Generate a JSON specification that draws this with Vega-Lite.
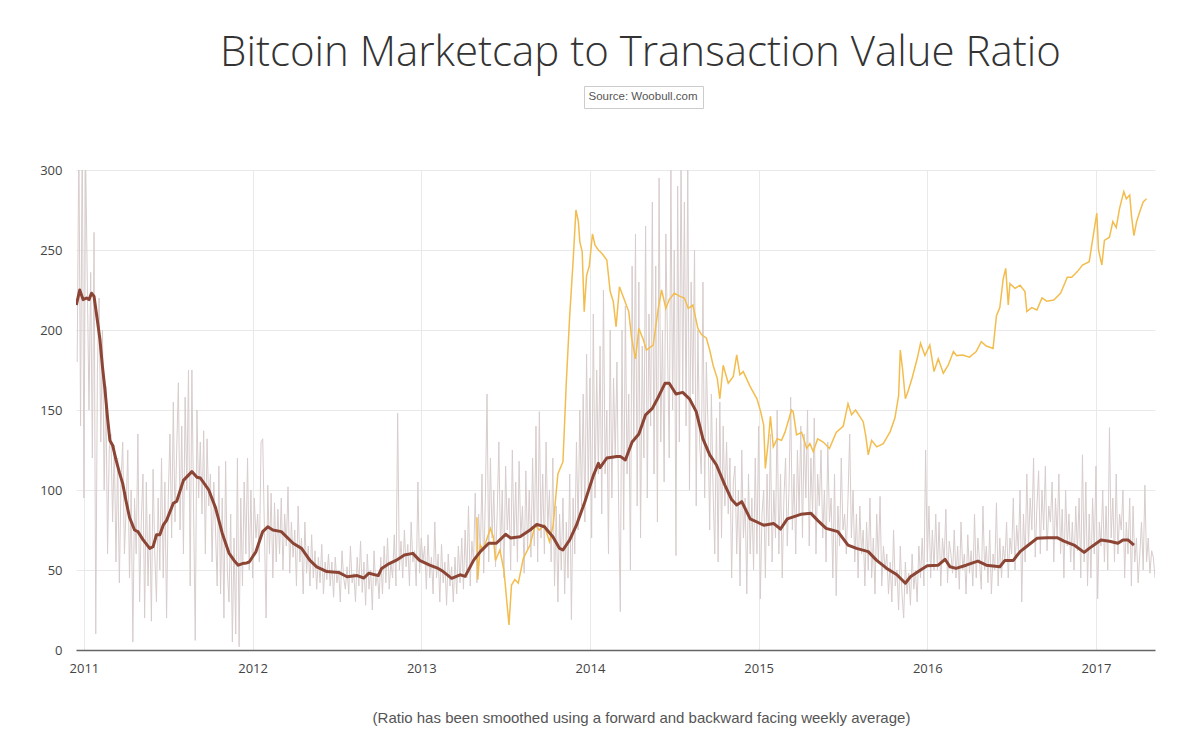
{
"$schema": "https://vega.github.io/schema/vega-lite/v6.json",
"width": 1079,
"height": 480,
"autosize": {"type": "none"},
"padding": {"left": 76, "top": 170, "right": 45, "bottom": 88},
"background": "white",
"config": {"view": {"stroke": null}},
"title": {"text": "Bitcoin Marketcap to Transaction Value Ratio", "font": "Open Sans", "fontSize": 42, "fontWeight": 300, "color": "#333333", "anchor": "middle", "frame": "group", "dx": 25, "dy": 40, "baseline": "alphabetic", "offset": 18},
"datasets": {
"daily": [
{"t":2010.96,"v":180},{"t":2010.97,"v":320},{"t":2010.98,"v":140},{"t":2010.99,"v":330},{"t":2011.00,"v":95},{"t":2011.01,"v":310},{"t":2011.02,"v":230},{"t":2011.03,"v":150},{"t":2011.04,"v":236},{"t":2011.05,"v":120},
{"t":2011.06,"v":261},{"t":2011.07,"v":10},{"t":2011.08,"v":175},{"t":2011.09,"v":220},{"t":2011.10,"v":130},{"t":2011.11,"v":200},{"t":2011.12,"v":100},{"t":2011.13,"v":165},{"t":2011.14,"v":60},{"t":2011.15,"v":125},
{"t":2011.16,"v":135},{"t":2011.17,"v":80},{"t":2011.18,"v":128},{"t":2011.19,"v":55},{"t":2011.20,"v":120},{"t":2011.21,"v":42},{"t":2011.22,"v":105},{"t":2011.23,"v":130},{"t":2011.24,"v":60},{"t":2011.25,"v":88},
{"t":2011.26,"v":125},{"t":2011.27,"v":45},{"t":2011.28,"v":100},{"t":2011.29,"v":5},{"t":2011.30,"v":95},{"t":2011.31,"v":60},{"t":2011.32,"v":135},{"t":2011.33,"v":30},{"t":2011.34,"v":80},{"t":2011.35,"v":110},
{"t":2011.36,"v":20},{"t":2011.37,"v":105},{"t":2011.38,"v":40},{"t":2011.39,"v":85},{"t":2011.40,"v":18},{"t":2011.41,"v":113},{"t":2011.42,"v":60},{"t":2011.43,"v":30},{"t":2011.44,"v":95},{"t":2011.45,"v":50},
{"t":2011.46,"v":120},{"t":2011.47,"v":45},{"t":2011.48,"v":105},{"t":2011.49,"v":20},{"t":2011.50,"v":95},{"t":2011.51,"v":135},{"t":2011.52,"v":70},{"t":2011.53,"v":155},{"t":2011.54,"v":80},{"t":2011.55,"v":125},
{"t":2011.56,"v":167},{"t":2011.57,"v":75},{"t":2011.58,"v":140},{"t":2011.59,"v":60},{"t":2011.60,"v":158},{"t":2011.61,"v":100},{"t":2011.62,"v":175},{"t":2011.63,"v":40},{"t":2011.64,"v":175},{"t":2011.65,"v":90},
{"t":2011.66,"v":6},{"t":2011.67,"v":150},{"t":2011.68,"v":95},{"t":2011.69,"v":130},{"t":2011.70,"v":85},{"t":2011.71,"v":137},{"t":2011.72,"v":60},{"t":2011.73,"v":132},{"t":2011.74,"v":90},{"t":2011.75,"v":110},
{"t":2011.76,"v":55},{"t":2011.77,"v":105},{"t":2011.78,"v":75},{"t":2011.79,"v":40},{"t":2011.80,"v":115},{"t":2011.81,"v":35},{"t":2011.82,"v":95},{"t":2011.83,"v":20},{"t":2011.84,"v":118},{"t":2011.85,"v":50},
{"t":2011.86,"v":30},{"t":2011.87,"v":85},{"t":2011.88,"v":5},{"t":2011.89,"v":70},{"t":2011.90,"v":10},{"t":2011.91,"v":120},{"t":2011.92,"v":2},{"t":2011.93,"v":95},{"t":2011.94,"v":40},{"t":2011.95,"v":105},
{"t":2011.96,"v":60},{"t":2011.97,"v":120},{"t":2011.98,"v":50},{"t":2011.99,"v":100},{"t":2012.00,"v":45},{"t":2012.01,"v":95},{"t":2012.02,"v":70},{"t":2012.03,"v":85},{"t":2012.04,"v":55},{"t":2012.05,"v":130},
{"t":2012.06,"v":132},{"t":2012.07,"v":75},{"t":2012.08,"v":20},{"t":2012.09,"v":103},{"t":2012.10,"v":60},{"t":2012.11,"v":98},{"t":2012.12,"v":45},{"t":2012.13,"v":92},{"t":2012.14,"v":55},{"t":2012.15,"v":88},
{"t":2012.16,"v":60},{"t":2012.17,"v":95},{"t":2012.18,"v":50},{"t":2012.19,"v":85},{"t":2012.20,"v":65},{"t":2012.21,"v":102},{"t":2012.22,"v":48},{"t":2012.23,"v":80},{"t":2012.24,"v":58},{"t":2012.25,"v":75},
{"t":2012.26,"v":40},{"t":2012.27,"v":90},{"t":2012.28,"v":55},{"t":2012.29,"v":70},{"t":2012.30,"v":35},{"t":2012.31,"v":80},{"t":2012.32,"v":48},{"t":2012.33,"v":65},{"t":2012.34,"v":40},{"t":2012.35,"v":72},
{"t":2012.36,"v":45},{"t":2012.37,"v":62},{"t":2012.38,"v":38},{"t":2012.39,"v":58},{"t":2012.40,"v":42},{"t":2012.41,"v":66},{"t":2012.42,"v":35},{"t":2012.43,"v":55},{"t":2012.44,"v":44},{"t":2012.45,"v":60},
{"t":2012.46,"v":40},{"t":2012.47,"v":55},{"t":2012.48,"v":33},{"t":2012.49,"v":58},{"t":2012.50,"v":42},{"t":2012.51,"v":50},{"t":2012.52,"v":30},{"t":2012.53,"v":62},{"t":2012.54,"v":45},{"t":2012.55,"v":38},
{"t":2012.56,"v":52},{"t":2012.57,"v":35},{"t":2012.58,"v":65},{"t":2012.59,"v":42},{"t":2012.60,"v":48},{"t":2012.61,"v":30},{"t":2012.62,"v":58},{"t":2012.63,"v":40},{"t":2012.64,"v":68},{"t":2012.65,"v":36},
{"t":2012.66,"v":55},{"t":2012.67,"v":28},{"t":2012.68,"v":60},{"t":2012.69,"v":38},{"t":2012.70,"v":50},{"t":2012.71,"v":25},{"t":2012.72,"v":62},{"t":2012.73,"v":40},{"t":2012.74,"v":48},{"t":2012.75,"v":32},
{"t":2012.76,"v":58},{"t":2012.77,"v":35},{"t":2012.78,"v":65},{"t":2012.79,"v":42},{"t":2012.80,"v":70},{"t":2012.81,"v":38},{"t":2012.82,"v":55},{"t":2012.83,"v":45},{"t":2012.84,"v":72},{"t":2012.85,"v":40},
{"t":2012.86,"v":148},{"t":2012.87,"v":50},{"t":2012.88,"v":68},{"t":2012.89,"v":45},{"t":2012.90,"v":75},{"t":2012.91,"v":52},{"t":2012.92,"v":66},{"t":2012.93,"v":40},{"t":2012.94,"v":80},{"t":2012.95,"v":55},
{"t":2012.96,"v":62},{"t":2012.97,"v":40},{"t":2012.98,"v":105},{"t":2012.99,"v":48},{"t":2013.00,"v":70},{"t":2013.01,"v":55},{"t":2013.02,"v":65},{"t":2013.03,"v":38},{"t":2013.04,"v":72},{"t":2013.05,"v":45},
{"t":2013.06,"v":58},{"t":2013.07,"v":35},{"t":2013.08,"v":80},{"t":2013.09,"v":45},{"t":2013.10,"v":60},{"t":2013.11,"v":30},{"t":2013.12,"v":66},{"t":2013.13,"v":42},{"t":2013.14,"v":55},{"t":2013.15,"v":28},
{"t":2013.16,"v":60},{"t":2013.17,"v":40},{"t":2013.18,"v":52},{"t":2013.19,"v":30},{"t":2013.20,"v":58},{"t":2013.21,"v":35},{"t":2013.22,"v":65},{"t":2013.23,"v":42},{"t":2013.24,"v":70},{"t":2013.25,"v":38},
{"t":2013.26,"v":75},{"t":2013.27,"v":45},{"t":2013.28,"v":90},{"t":2013.29,"v":40},{"t":2013.30,"v":68},{"t":2013.31,"v":55},{"t":2013.32,"v":98},{"t":2013.33,"v":42},{"t":2013.34,"v":85},{"t":2013.35,"v":60},
{"t":2013.36,"v":110},{"t":2013.37,"v":48},{"t":2013.38,"v":95},{"t":2013.39,"v":160},{"t":2013.40,"v":55},{"t":2013.41,"v":120},{"t":2013.42,"v":70},{"t":2013.43,"v":100},{"t":2013.44,"v":52},{"t":2013.45,"v":85},
{"t":2013.46,"v":130},{"t":2013.47,"v":60},{"t":2013.48,"v":100},{"t":2013.49,"v":45},{"t":2013.50,"v":115},{"t":2013.51,"v":75},{"t":2013.52,"v":95},{"t":2013.53,"v":50},{"t":2013.54,"v":125},{"t":2013.55,"v":65},
{"t":2013.56,"v":105},{"t":2013.57,"v":55},{"t":2013.58,"v":118},{"t":2013.59,"v":70},{"t":2013.60,"v":90},{"t":2013.61,"v":48},{"t":2013.62,"v":112},{"t":2013.63,"v":62},{"t":2013.64,"v":100},{"t":2013.65,"v":58},
{"t":2013.66,"v":120},{"t":2013.67,"v":65},{"t":2013.68,"v":140},{"t":2013.69,"v":55},{"t":2013.70,"v":149},{"t":2013.71,"v":70},{"t":2013.72,"v":110},{"t":2013.73,"v":60},{"t":2013.74,"v":130},{"t":2013.75,"v":75},
{"t":2013.76,"v":100},{"t":2013.77,"v":55},{"t":2013.78,"v":120},{"t":2013.79,"v":40},{"t":2013.80,"v":90},{"t":2013.81,"v":30},{"t":2013.82,"v":85},{"t":2013.83,"v":50},{"t":2013.84,"v":95},{"t":2013.85,"v":35},
{"t":2013.86,"v":80},{"t":2013.87,"v":45},{"t":2013.88,"v":110},{"t":2013.89,"v":19},{"t":2013.90,"v":95},{"t":2013.91,"v":60},{"t":2013.92,"v":130},{"t":2013.93,"v":75},{"t":2013.94,"v":150},{"t":2013.95,"v":90},
{"t":2013.96,"v":160},{"t":2013.97,"v":80},{"t":2013.98,"v":185},{"t":2013.99,"v":100},{"t":2014.00,"v":170},{"t":2014.01,"v":70},{"t":2014.02,"v":210},{"t":2014.03,"v":95},{"t":2014.04,"v":175},{"t":2014.05,"v":110},
{"t":2014.06,"v":190},{"t":2014.07,"v":85},{"t":2014.08,"v":225},{"t":2014.09,"v":110},{"t":2014.10,"v":150},{"t":2014.11,"v":60},{"t":2014.12,"v":200},{"t":2014.13,"v":95},{"t":2014.14,"v":170},{"t":2014.15,"v":120},
{"t":2014.16,"v":180},{"t":2014.17,"v":90},{"t":2014.18,"v":24},{"t":2014.19,"v":200},{"t":2014.20,"v":75},{"t":2014.21,"v":215},{"t":2014.22,"v":110},{"t":2014.23,"v":160},{"t":2014.24,"v":50},{"t":2014.25,"v":240},
{"t":2014.26,"v":130},{"t":2014.27,"v":260},{"t":2014.28,"v":90},{"t":2014.29,"v":230},{"t":2014.30,"v":70},{"t":2014.31,"v":190},{"t":2014.32,"v":120},{"t":2014.33,"v":265},{"t":2014.34,"v":95},{"t":2014.35,"v":210},
{"t":2014.36,"v":140},{"t":2014.37,"v":280},{"t":2014.38,"v":110},{"t":2014.39,"v":240},{"t":2014.40,"v":80},{"t":2014.41,"v":295},{"t":2014.42,"v":130},{"t":2014.43,"v":200},{"t":2014.44,"v":105},{"t":2014.45,"v":260},
{"t":2014.46,"v":190},{"t":2014.47,"v":120},{"t":2014.48,"v":300},{"t":2014.49,"v":150},{"t":2014.50,"v":250},{"t":2014.51,"v":59},{"t":2014.52,"v":290},{"t":2014.53,"v":130},{"t":2014.54,"v":310},{"t":2014.55,"v":160},
{"t":2014.56,"v":280},{"t":2014.57,"v":140},{"t":2014.58,"v":305},{"t":2014.59,"v":100},{"t":2014.60,"v":230},{"t":2014.61,"v":160},{"t":2014.62,"v":250},{"t":2014.63,"v":90},{"t":2014.64,"v":200},{"t":2014.65,"v":130},
{"t":2014.66,"v":110},{"t":2014.67,"v":230},{"t":2014.68,"v":95},{"t":2014.69,"v":180},{"t":2014.70,"v":140},{"t":2014.71,"v":75},{"t":2014.72,"v":160},{"t":2014.73,"v":100},{"t":2014.74,"v":60},{"t":2014.75,"v":145},
{"t":2014.76,"v":55},{"t":2014.77,"v":155},{"t":2014.78,"v":70},{"t":2014.79,"v":140},{"t":2014.80,"v":90},{"t":2014.81,"v":130},{"t":2014.82,"v":85},{"t":2014.83,"v":120},{"t":2014.84,"v":45},{"t":2014.85,"v":105},
{"t":2014.86,"v":115},{"t":2014.87,"v":60},{"t":2014.88,"v":100},{"t":2014.89,"v":40},{"t":2014.90,"v":125},{"t":2014.91,"v":70},{"t":2014.92,"v":95},{"t":2014.93,"v":35},{"t":2014.94,"v":110},{"t":2014.95,"v":60},
{"t":2014.96,"v":95},{"t":2014.97,"v":50},{"t":2014.98,"v":120},{"t":2014.99,"v":60},{"t":2015.00,"v":140},{"t":2015.01,"v":32},{"t":2015.02,"v":85},{"t":2015.03,"v":100},{"t":2015.04,"v":45},{"t":2015.05,"v":110},
{"t":2015.06,"v":65},{"t":2015.07,"v":135},{"t":2015.08,"v":55},{"t":2015.09,"v":100},{"t":2015.10,"v":70},{"t":2015.11,"v":150},{"t":2015.12,"v":60},{"t":2015.13,"v":110},{"t":2015.14,"v":45},{"t":2015.15,"v":95},
{"t":2015.16,"v":120},{"t":2015.17,"v":65},{"t":2015.18,"v":100},{"t":2015.19,"v":158},{"t":2015.20,"v":75},{"t":2015.21,"v":110},{"t":2015.22,"v":60},{"t":2015.23,"v":125},{"t":2015.24,"v":85},{"t":2015.25,"v":140},
{"t":2015.26,"v":70},{"t":2015.27,"v":135},{"t":2015.28,"v":95},{"t":2015.29,"v":150},{"t":2015.30,"v":65},{"t":2015.31,"v":120},{"t":2015.32,"v":85},{"t":2015.33,"v":145},{"t":2015.34,"v":60},{"t":2015.35,"v":110},
{"t":2015.36,"v":90},{"t":2015.37,"v":125},{"t":2015.38,"v":70},{"t":2015.39,"v":100},{"t":2015.40,"v":55},{"t":2015.41,"v":130},{"t":2015.42,"v":80},{"t":2015.43,"v":95},{"t":2015.44,"v":45},{"t":2015.45,"v":110},
{"t":2015.46,"v":34},{"t":2015.47,"v":90},{"t":2015.48,"v":65},{"t":2015.49,"v":120},{"t":2015.50,"v":75},{"t":2015.51,"v":85},{"t":2015.52,"v":60},{"t":2015.53,"v":95},{"t":2015.54,"v":135},{"t":2015.55,"v":70},
{"t":2015.56,"v":100},{"t":2015.57,"v":55},{"t":2015.58,"v":85},{"t":2015.59,"v":45},{"t":2015.60,"v":90},{"t":2015.61,"v":60},{"t":2015.62,"v":75},{"t":2015.63,"v":40},{"t":2015.64,"v":80},{"t":2015.65,"v":50},
{"t":2015.66,"v":95},{"t":2015.67,"v":45},{"t":2015.68,"v":70},{"t":2015.69,"v":35},{"t":2015.70,"v":85},{"t":2015.71,"v":55},{"t":2015.72,"v":96},{"t":2015.73,"v":40},{"t":2015.74,"v":65},{"t":2015.75,"v":50},
{"t":2015.76,"v":60},{"t":2015.77,"v":35},{"t":2015.78,"v":55},{"t":2015.79,"v":30},{"t":2015.80,"v":75},{"t":2015.81,"v":40},{"t":2015.82,"v":50},{"t":2015.83,"v":25},{"t":2015.84,"v":65},{"t":2015.85,"v":35},
{"t":2015.86,"v":20},{"t":2015.87,"v":55},{"t":2015.88,"v":35},{"t":2015.89,"v":48},{"t":2015.90,"v":28},{"t":2015.91,"v":60},{"t":2015.92,"v":38},{"t":2015.93,"v":50},{"t":2015.94,"v":30},{"t":2015.95,"v":65},
{"t":2015.96,"v":45},{"t":2015.97,"v":70},{"t":2015.98,"v":40},{"t":2015.99,"v":125},{"t":2016.00,"v":55},{"t":2016.01,"v":90},{"t":2016.02,"v":45},{"t":2016.03,"v":75},{"t":2016.04,"v":50},{"t":2016.05,"v":85},
{"t":2016.06,"v":50},{"t":2016.07,"v":80},{"t":2016.08,"v":40},{"t":2016.09,"v":70},{"t":2016.10,"v":55},{"t":2016.11,"v":88},{"t":2016.12,"v":42},{"t":2016.13,"v":68},{"t":2016.14,"v":60},{"t":2016.15,"v":48},
{"t":2016.16,"v":75},{"t":2016.17,"v":45},{"t":2016.18,"v":65},{"t":2016.19,"v":38},{"t":2016.20,"v":80},{"t":2016.21,"v":50},{"t":2016.22,"v":60},{"t":2016.23,"v":35},{"t":2016.24,"v":72},{"t":2016.25,"v":48},
{"t":2016.26,"v":62},{"t":2016.27,"v":40},{"t":2016.28,"v":85},{"t":2016.29,"v":45},{"t":2016.30,"v":70},{"t":2016.31,"v":55},{"t":2016.32,"v":38},{"t":2016.33,"v":90},{"t":2016.34,"v":50},{"t":2016.35,"v":65},
{"t":2016.36,"v":42},{"t":2016.37,"v":75},{"t":2016.38,"v":35},{"t":2016.39,"v":60},{"t":2016.40,"v":50},{"t":2016.41,"v":92},{"t":2016.42,"v":40},{"t":2016.43,"v":70},{"t":2016.44,"v":45},{"t":2016.45,"v":65},
{"t":2016.46,"v":55},{"t":2016.47,"v":80},{"t":2016.48,"v":45},{"t":2016.49,"v":70},{"t":2016.50,"v":60},{"t":2016.51,"v":95},{"t":2016.52,"v":50},{"t":2016.53,"v":78},{"t":2016.54,"v":62},{"t":2016.55,"v":100},
{"t":2016.56,"v":30},{"t":2016.57,"v":85},{"t":2016.58,"v":55},{"t":2016.59,"v":110},{"t":2016.60,"v":65},{"t":2016.61,"v":95},{"t":2016.62,"v":75},{"t":2016.63,"v":120},{"t":2016.64,"v":58},{"t":2016.65,"v":90},
{"t":2016.66,"v":112},{"t":2016.67,"v":60},{"t":2016.68,"v":100},{"t":2016.69,"v":75},{"t":2016.70,"v":115},{"t":2016.71,"v":62},{"t":2016.72,"v":90},{"t":2016.73,"v":80},{"t":2016.74,"v":105},{"t":2016.75,"v":55},
{"t":2016.76,"v":95},{"t":2016.77,"v":70},{"t":2016.78,"v":110},{"t":2016.79,"v":60},{"t":2016.80,"v":88},{"t":2016.81,"v":45},{"t":2016.82,"v":100},{"t":2016.83,"v":65},{"t":2016.84,"v":85},{"t":2016.85,"v":55},
{"t":2016.86,"v":80},{"t":2016.87,"v":50},{"t":2016.88,"v":90},{"t":2016.89,"v":62},{"t":2016.90,"v":95},{"t":2016.91,"v":45},{"t":2016.92,"v":122},{"t":2016.93,"v":55},{"t":2016.94,"v":105},{"t":2016.95,"v":40},
{"t":2016.96,"v":85},{"t":2016.97,"v":45},{"t":2016.98,"v":95},{"t":2016.99,"v":60},{"t":2017.00,"v":115},{"t":2017.01,"v":32},{"t":2017.02,"v":80},{"t":2017.03,"v":65},{"t":2017.04,"v":100},{"t":2017.05,"v":55},
{"t":2017.06,"v":90},{"t":2017.07,"v":50},{"t":2017.08,"v":139},{"t":2017.09,"v":70},{"t":2017.10,"v":95},{"t":2017.11,"v":55},{"t":2017.12,"v":110},{"t":2017.13,"v":60},{"t":2017.14,"v":85},{"t":2017.15,"v":75},
{"t":2017.16,"v":100},{"t":2017.17,"v":45},{"t":2017.18,"v":80},{"t":2017.19,"v":60},{"t":2017.20,"v":95},{"t":2017.21,"v":40},{"t":2017.22,"v":90},{"t":2017.23,"v":55},{"t":2017.24,"v":70},{"t":2017.25,"v":42},
{"t":2017.26,"v":60},{"t":2017.27,"v":80},{"t":2017.28,"v":50},{"t":2017.29,"v":103},{"t":2017.30,"v":55},{"t":2017.31,"v":70},{"t":2017.32,"v":48},{"t":2017.33,"v":62},{"t":2017.34,"v":58},{"t":2017.35,"v":45}
],
"smooth": [
{"t":2010.955,"v":215.6},{"t":2010.975,"v":225},{"t":2010.995,"v":219},{"t":2011.015,"v":220},{"t":2011.03,"v":219},{"t":2011.045,"v":223},{"t":2011.06,"v":221},{"t":2011.081,"v":205},{"t":2011.095,"v":194},{"t":2011.11,"v":177},{"t":2011.125,"v":162.5},{"t":2011.14,"v":145},{"t":2011.154,"v":131},{"t":2011.17,"v":128},{"t":2011.19,"v":119},{"t":2011.21,"v":111},{"t":2011.23,"v":104},{"t":2011.25,"v":93},{"t":2011.27,"v":83},{"t":2011.30,"v":75},{"t":2011.32,"v":74},{"t":2011.35,"v":69},{"t":2011.39,"v":63.5},{"t":2011.41,"v":64.6},{"t":2011.43,"v":72},{"t":2011.45,"v":72},{"t":2011.47,"v":78},{"t":2011.49,"v":81},{"t":2011.53,"v":91.7},{"t":2011.55,"v":93},{"t":2011.59,"v":106},{"t":2011.64,"v":111.5},{"t":2011.67,"v":108},{"t":2011.69,"v":107.5},{"t":2011.72,"v":103},{"t":2011.74,"v":100},{"t":2011.78,"v":89},{"t":2011.82,"v":73},{"t":2011.86,"v":60.6},{"t":2011.89,"v":56},{"t":2011.915,"v":53},{"t":2011.94,"v":54},{"t":2011.965,"v":54.4},{"t":2011.98,"v":55},{"t":2012.02,"v":61.5},{"t":2012.06,"v":74},{"t":2012.09,"v":77},{"t":2012.12,"v":75},{"t":2012.17,"v":74},{"t":2012.24,"v":66.7},{"t":2012.29,"v":63.5},{"t":2012.34,"v":56},{"t":2012.38,"v":52},{"t":2012.44,"v":49},{"t":2012.51,"v":48.5},{"t":2012.56,"v":45.8},{"t":2012.62,"v":46.5},{"t":2012.66,"v":45},{"t":2012.69,"v":48},{"t":2012.745,"v":46.5},{"t":2012.765,"v":51},{"t":2012.81,"v":54},{"t":2012.85,"v":56},{"t":2012.90,"v":59.4},{"t":2012.95,"v":60.4},{"t":2012.99,"v":56},{"t":2013.05,"v":53},{"t":2013.10,"v":51},{"t":2013.13,"v":49},{"t":2013.18,"v":44.8},{"t":2013.23,"v":47},{"t":2013.26,"v":46},{"t":2013.31,"v":56},{"t":2013.35,"v":61.5},{"t":2013.40,"v":66.7},{"t":2013.445,"v":66.7},{"t":2013.50,"v":72.3},{"t":2013.53,"v":70},{"t":2013.585,"v":70.8},{"t":2013.645,"v":75},{"t":2013.685,"v":78.5},{"t":2013.73,"v":77},{"t":2013.78,"v":70.8},{"t":2013.82,"v":63.5},{"t":2013.84,"v":62.5},{"t":2013.88,"v":68.8},{"t":2013.92,"v":78},{"t":2013.97,"v":92.7},{"t":2014.02,"v":109},{"t":2014.05,"v":116.7},{"t":2014.06,"v":114},{"t":2014.10,"v":120},{"t":2014.16,"v":121},{"t":2014.18,"v":121},{"t":2014.21,"v":118.75},{"t":2014.25,"v":130},{"t":2014.29,"v":135},{"t":2014.33,"v":147},{"t":2014.37,"v":151},{"t":2014.405,"v":158},{"t":2014.445,"v":166.7},{"t":2014.47,"v":166.7},{"t":2014.51,"v":160},{"t":2014.55,"v":161},{"t":2014.59,"v":157},{"t":2014.63,"v":149},{"t":2014.67,"v":132},{"t":2014.71,"v":122},{"t":2014.75,"v":115.6},{"t":2014.80,"v":103},{"t":2014.84,"v":94},{"t":2014.87,"v":90.6},{"t":2014.90,"v":92.7},{"t":2014.95,"v":82},{"t":2014.99,"v":80},{"t":2015.03,"v":78},{"t":2015.09,"v":79},{"t":2015.13,"v":75.6},{"t":2015.17,"v":82},{"t":2015.25,"v":84.8},{"t":2015.31,"v":85.4},{"t":2015.35,"v":81},{"t":2015.40,"v":76},{"t":2015.47,"v":74},{"t":2015.53,"v":65.6},{"t":2015.58,"v":63.5},{"t":2015.65,"v":61.5},{"t":2015.70,"v":56},{"t":2015.76,"v":51},{"t":2015.82,"v":47},{"t":2015.87,"v":41.7},{"t":2015.90,"v":45.8},{"t":2015.96,"v":50},{"t":2016.00,"v":52.7},{"t":2016.065,"v":53},{"t":2016.105,"v":56.7},{"t":2016.135,"v":52},{"t":2016.17,"v":51},{"t":2016.23,"v":53},{"t":2016.30,"v":55.6},{"t":2016.35,"v":53},{"t":2016.43,"v":52},{"t":2016.46,"v":56},{"t":2016.51,"v":56},{"t":2016.55,"v":61.5},{"t":2016.60,"v":65.6},{"t":2016.65,"v":69.8},{"t":2016.71,"v":70.2},{"t":2016.77,"v":70.2},{"t":2016.81,"v":68},{"t":2016.87,"v":65.6},{"t":2016.93,"v":61},{"t":2016.96,"v":63.5},{"t":2017.03,"v":68.8},{"t":2017.08,"v":68},{"t":2017.13,"v":66.7},{"t":2017.16,"v":68.8},{"t":2017.19,"v":68.8},{"t":2017.225,"v":65.6}
],
"yellow": [
{"t":2013.33,"v":83},{"t":2013.335,"v":44},{"t":2013.35,"v":65.6},{"t":2013.367,"v":62.5},{"t":2013.41,"v":76},{"t":2013.427,"v":70.8},{"t":2013.44,"v":56},{"t":2013.466,"v":62.5},{"t":2013.49,"v":50},{"t":2013.52,"v":15.6},{"t":2013.535,"v":40.6},{"t":2013.555,"v":44},{"t":2013.575,"v":41.7},{"t":2013.605,"v":57.3},{"t":2013.645,"v":65.6},{"t":2013.675,"v":78},{"t":2013.70,"v":75},{"t":2013.73,"v":78},{"t":2013.76,"v":67.7},{"t":2013.782,"v":78},{"t":2013.81,"v":110},{"t":2013.84,"v":117.7},{"t":2013.86,"v":167.7},{"t":2013.88,"v":209},{"t":2013.90,"v":242.7},{"t":2013.917,"v":275},{"t":2013.931,"v":268},{"t":2013.94,"v":255},{"t":2013.954,"v":249},{"t":2013.966,"v":211.5},{"t":2013.98,"v":234},{"t":2013.996,"v":240},{"t":2014.015,"v":260},{"t":2014.03,"v":253},{"t":2014.05,"v":250},{"t":2014.07,"v":248},{"t":2014.10,"v":243.75},{"t":2014.12,"v":224},{"t":2014.138,"v":218},{"t":2014.155,"v":202},{"t":2014.175,"v":227},{"t":2014.20,"v":220},{"t":2014.23,"v":211.5},{"t":2014.247,"v":195},{"t":2014.27,"v":182},{"t":2014.29,"v":201},{"t":2014.316,"v":194},{"t":2014.335,"v":187.5},{"t":2014.375,"v":190.6},{"t":2014.405,"v":213.5},{"t":2014.425,"v":225},{"t":2014.45,"v":213.5},{"t":2014.47,"v":219},{"t":2014.50,"v":223},{"t":2014.534,"v":221},{"t":2014.56,"v":220},{"t":2014.583,"v":213.5},{"t":2014.61,"v":215.6},{"t":2014.64,"v":201},{"t":2014.662,"v":197},{"t":2014.69,"v":195},{"t":2014.71,"v":187.5},{"t":2014.73,"v":178},{"t":2014.755,"v":169.6},{"t":2014.77,"v":157},{"t":2014.79,"v":178},{"t":2014.82,"v":166.7},{"t":2014.85,"v":171},{"t":2014.87,"v":184.4},{"t":2014.889,"v":172},{"t":2014.909,"v":174},{"t":2014.95,"v":164.6},{"t":2014.99,"v":157},{"t":2015.012,"v":149},{"t":2015.03,"v":140.6},{"t":2015.04,"v":113.5},{"t":2015.057,"v":130},{"t":2015.07,"v":146},{"t":2015.087,"v":127},{"t":2015.11,"v":132},{"t":2015.136,"v":131},{"t":2015.156,"v":136},{"t":2015.195,"v":150},{"t":2015.205,"v":149},{"t":2015.225,"v":134.4},{"t":2015.255,"v":136},{"t":2015.285,"v":126},{"t":2015.304,"v":129},{"t":2015.324,"v":124},{"t":2015.35,"v":132},{"t":2015.383,"v":130},{"t":2015.42,"v":126},{"t":2015.46,"v":136},{"t":2015.502,"v":140},{"t":2015.53,"v":154},{"t":2015.551,"v":147},{"t":2015.575,"v":150},{"t":2015.62,"v":142.7},{"t":2015.635,"v":134},{"t":2015.65,"v":122},{"t":2015.67,"v":131},{"t":2015.70,"v":127},{"t":2015.739,"v":129},{"t":2015.78,"v":136.5},{"t":2015.808,"v":145},{"t":2015.83,"v":159},{"t":2015.84,"v":187.5},{"t":2015.854,"v":175},{"t":2015.87,"v":157},{"t":2015.887,"v":162},{"t":2015.91,"v":170},{"t":2015.94,"v":182},{"t":2015.96,"v":191.7},{"t":2015.986,"v":184},{"t":2016.015,"v":190.6},{"t":2016.04,"v":174},{"t":2016.065,"v":182},{"t":2016.095,"v":173},{"t":2016.124,"v":178},{"t":2016.155,"v":186.5},{"t":2016.174,"v":184},{"t":2016.21,"v":184.4},{"t":2016.25,"v":183},{"t":2016.29,"v":186.5},{"t":2016.32,"v":192.7},{"t":2016.35,"v":190},{"t":2016.39,"v":188.5},{"t":2016.41,"v":209},{"t":2016.43,"v":214},{"t":2016.45,"v":232},{"t":2016.465,"v":238.5},{"t":2016.48,"v":215.6},{"t":2016.49,"v":229},{"t":2016.52,"v":226},{"t":2016.55,"v":228},{"t":2016.579,"v":224},{"t":2016.59,"v":211.5},{"t":2016.619,"v":214},{"t":2016.65,"v":212.5},{"t":2016.68,"v":220},{"t":2016.708,"v":218},{"t":2016.75,"v":218.75},{"t":2016.79,"v":223},{"t":2016.83,"v":233},{"t":2016.856,"v":233},{"t":2016.89,"v":236.5},{"t":2016.92,"v":240.6},{"t":2016.96,"v":242.7},{"t":2016.975,"v":253},{"t":2017.005,"v":273},{"t":2017.015,"v":250},{"t":2017.035,"v":240.6},{"t":2017.05,"v":256},{"t":2017.08,"v":258},{"t":2017.10,"v":267.7},{"t":2017.12,"v":264},{"t":2017.14,"v":276},{"t":2017.165,"v":286.5},{"t":2017.18,"v":282},{"t":2017.20,"v":284.4},{"t":2017.211,"v":271},{"t":2017.225,"v":259},{"t":2017.241,"v":267.7},{"t":2017.26,"v":274},{"t":2017.28,"v":280},{"t":2017.30,"v":282}
]
},
"encoding": {
"x": {"field": "t", "type": "quantitative", "scale": {"domain": [2010.953, 2017.35], "nice": false, "zero": false},
 "axis": {"values": [2011, 2012, 2013, 2014, 2015, 2016, 2017], "format": "d", "grid": true, "gridColor": "#e9e9e9", "gridWidth": 1, "ticks": false, "domain": true, "domainColor": "#666666", "domainWidth": 1.5, "labelFont": "Open Sans", "labelFontSize": 13, "labelColor": "#444444", "labelPadding": 12, "labelFlush": false,
 "title": "(Ratio has been smoothed using a forward and backward facing weekly average)", "titleFont": "Liberation Sans", "titleFontSize": 15, "titleFontWeight": "normal", "titleColor": "#555555", "titlePadding": 35, "titleX": 565}},
"y": {"field": "v", "type": "quantitative", "scale": {"domain": [0, 300], "nice": false},
 "axis": {"values": [0, 50, 100, 150, 200, 250, 300], "grid": true, "gridColor": "#e9e9e9", "gridWidth": 1, "ticks": false, "domain": false, "labelFont": "Open Sans", "labelFontSize": 13, "labelColor": "#444444", "labelPadding": 14, "title": null}}
},
"layer": [
{"data": {"name": "daily"}, "mark": {"type": "line", "strokeWidth": 1, "clip": true},
 "encoding": {"color": {"datum": "Source: Woobull.com", "scale": {"range": ["#d8cccc"]},
  "legend": {"orient": "none", "legendX": 508, "legendY": -84, "title": null, "strokeColor": "#cccccc", "padding": 5, "symbolSize": 0, "symbolStrokeWidth": 0, "symbolOpacity": 0, "labelOffset": -12, "labelFont": "Liberation Sans", "labelFontSize": 11.5, "labelColor": "#555555"}}}},
{"data": {"name": "yellow"}, "mark": {"type": "line", "stroke": "#f3bd4e", "strokeWidth": 1.5, "clip": true}},
{"data": {"name": "smooth"}, "mark": {"type": "line", "stroke": "#8c4535", "strokeWidth": 3, "strokeJoin": "round", "clip": true}}
]
}
